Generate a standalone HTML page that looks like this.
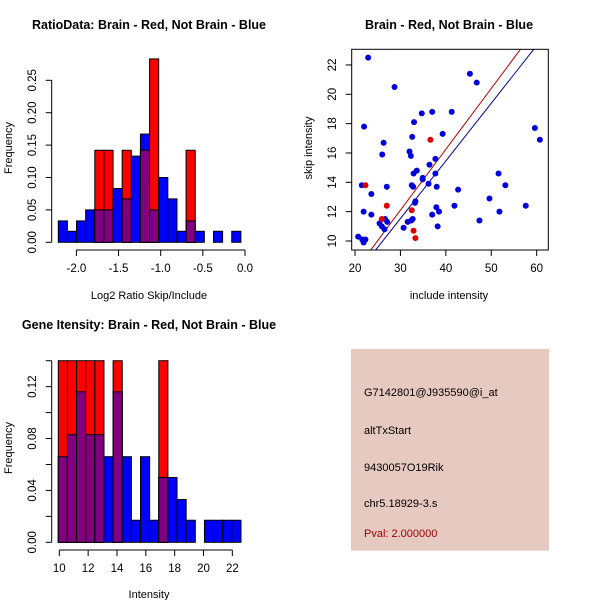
<!DOCTYPE html>
<html><head><meta charset="utf-8"><style>
body{margin:0;background:#fff;}
svg{display:block;font-family:"Liberation Sans",sans-serif;}
.t{font-weight:bold;font-size:12.5px;}
.l{font-size:11px;}
.k{font-size:11.5px;}
</style></head><body>
<svg id="c" width="600" height="600" viewBox="0 0 600 600" xmlns="http://www.w3.org/2000/svg"></svg>
<script>
// Panel 1 data
const ratioStart = -2.215, ratioWidth = 0.1083;
const ratioBlue = [0.033,0.017,0.033,0.05,0.05,0.05,0.083,0.067,0.133,0.167,0.05,0.1,0.067,0.017,0.033,0.017,0,0.017,0,0.017];
const ratioRed  = [0,0,0,0,0.142,0.142,0,0.142,0,0.142,0.283,0,0,0,0.142,0,0,0,0,0];
const ratioXTicks = [-2.0,-1.5,-1.0,-0.5,0.0];
const ratioXLabels = ["-2.0","-1.5","-1.0","-0.5","0.0"];
const ratioYTicks = [0,0.05,0.10,0.15,0.20,0.25];
const ratioYLabels = ["0.00","0.05","0.10","0.15","0.20","0.25"];
// Panel 2 data
const blueX = [22.9,28.7,45.3,46.8,34.7,37,41.3,33,22,39.3,32.6,26.3,26,32,32.3,37.7,36.4,33.6,32.9,37.7,34.9,34.9,36.2,21.5,32.5,32.8,27,38,42.7,23.6,33.3,33.2,41.9,37.9,21.9,38.5,23.6,37,26.6,27.1,32.4,32.7,31.6,25.4,25.9,26.5,30.7,38.2,20.7,21.6,22.3,21.9,59.6,60.7,51.6,53.1,49.6,51.8,57.6,47.4];
const blueY = [22.5,20.5,21.4,20.8,18.7,18.8,18.8,18.1,17.8,17.3,17.1,16.7,15.9,16.1,15.8,15.6,15.2,14.8,14.6,14.6,14.3,14.2,13.9,13.8,13.8,13.7,13.7,13.7,13.5,13.2,12.7,12.6,12.4,12.3,12,12,11.8,11.8,11.5,11.3,11.4,11.5,11.3,11.2,11,10.8,10.9,11,10.3,10.1,10.1,9.9,17.7,16.9,14.6,13.8,12.9,12,12.4,11.4];
const redX = [22.3,36.6,27,32.5,25.9,32.9,33.3];
const redY = [13.8,16.9,12.4,12.1,11.5,10.7,10.2];
const redFit = [-0.35,0.415];   // intercept, slope
const blueFit = [-0.26,0.393];
const scatXTicks = [20,30,40,50,60];
const scatYTicks = [10,12,14,16,18,20,22];
// Panel 3 data
const intStart = 9.93, intWidth = 0.6335;
const intBlue = [0.066,0.083,0.116,0.083,0.083,0.066,0.116,0.066,0.017,0.066,0.017,0.05,0.05,0.033,0.017,0,0.017,0.017,0.017,0.017];
const intRed  = [0.14,0.14,0.14,0.14,0.14,0,0.14,0,0,0,0,0.14,0,0,0,0,0,0,0,0];
const intXTicks = [10,12,14,16,18,20,22];
const intYTicks = [0,0.02,0.04,0.06,0.08,0.10,0.12,0.14];
const intYLabels = {0:"0.00",0.04:"0.04",0.08:"0.08",0.12:"0.12"};

const svg = document.getElementById('c');
const NS = 'http://www.w3.org/2000/svg';
function mk(tag, attrs, parent){const e=document.createElementNS(NS,tag);for(const k in attrs)e.setAttribute(k,attrs[k]);(parent||svg).appendChild(e);return e;}
function txt(x,y,s,cls,rot,anchor,fill){const e=mk('text',{x:x,y:y,'text-anchor':anchor||'middle',class:cls||'l',fill:fill||'#000'});if(rot)e.setAttribute('transform','rotate(-90 '+x+' '+y+')');e.textContent=s;return e;}

function hist(g, sx, sy, start, w, blue, red){
  for(let i=0;i<blue.length;i++){
    const x0=sx(start+i*w), x1=sx(start+(i+1)*w);
    const b=blue[i], r=red[i];
    if(b>0){const e=mk('rect',{x:x0,y:sy(b),width:x1-x0,height:sy(0)-sy(b),fill:'#0000ff',stroke:'#000','stroke-width':1},g);
      
      }
    if(r>0){const e=mk('rect',{x:x0,y:sy(r),width:x1-x0,height:sy(0)-sy(r),fill:'#ff0000',stroke:'#000','stroke-width':1},g);
      
      }
    const m=Math.min(b,r);
    if(m>0){const e=mk('rect',{x:x0,y:sy(m),width:x1-x0,height:sy(0)-sy(m),fill:'#800080',stroke:'#000','stroke-width':1},g);
      
      }
  }
}

// ---------- Panel 1 ----------
{
  const g=mk('g',{});
  
  
  const sx=v=>245+v*84.3, sy=v=>242.3-v*648;
  hist(g,sx,sy,ratioStart,ratioWidth,ratioBlue,ratioRed);
  mk('line',{x1:sx(-2),x2:sx(0),y1:250,y2:250,stroke:'#000'},g);
  ratioXTicks.forEach((v,i)=>{mk('line',{x1:sx(v),x2:sx(v),y1:250,y2:256,stroke:'#000'},g);
    const t=txt(sx(v),272,ratioXLabels[i],'k');});
  mk('line',{x1:51.7,x2:51.7,y1:sy(0),y2:sy(0.25),stroke:'#000'},g);
  ratioYTicks.forEach((v,i)=>{mk('line',{x1:45.7,x2:51.7,y1:sy(v),y2:sy(v),stroke:'#000'},g);
    const t=txt(36,sy(v),ratioYLabels[i],'k',true);});
  const t1=txt(149,29,'RatioData: Brain - Red, Not Brain - Blue','t');
  const t2=txt(149,299,'Log2 Ratio Skip/Include','l');
  const t3=txt(12,148,'Frequency','l',true);
}
// ---------- Panel 2 ----------
{
  const g=mk('g',{});
  
  
  const sx=v=>355+(v-20)*4.542, sy=v=>241-(v-10)*14.67;
  const L=351.7,R=548.3,T=49.3,B=250;
  mk('clipPath',{id:'cp'},g).appendChild(Object.assign(document.createElementNS(NS,'rect'),{}));
  const cr=g.querySelector('#cp rect');cr.setAttribute('x',L);cr.setAttribute('y',T);cr.setAttribute('width',R-L);cr.setAttribute('height',B-T);
  [[redFit,'#b00000','red-fit-line'],[blueFit,'#000090','blue-fit-line']].forEach(([f,c,n])=>{
    const xa=15,xb=70;
    const e=mk('line',{x1:sx(xa),y1:sy(f[0]+f[1]*xa),x2:sx(xb),y2:sy(f[0]+f[1]*xb),stroke:c,'stroke-width':1,'clip-path':'url(#cp)'},g);
    
    
  });
  blueX.forEach((x,i)=>{const e=mk('circle',{cx:sx(x),cy:sy(blueY[i]),r:3,fill:'#0000dd'},g);
    
    });
  redX.forEach((x,i)=>{const e=mk('circle',{cx:sx(x),cy:sy(redY[i]),r:3,fill:'#dd0000'},g);
    
    });
  mk('rect',{x:L,y:T,width:R-L,height:B-T,fill:'none',stroke:'#000'},g);
  scatXTicks.forEach(v=>{mk('line',{x1:sx(v),x2:sx(v),y1:B,y2:B+6,stroke:'#000'},g);
    const t=txt(sx(v),272,String(v),'k');});
  scatYTicks.forEach(v=>{mk('line',{x1:L-6,x2:L,y1:sy(v),y2:sy(v),stroke:'#000'},g);
    const t=txt(336,sy(v),String(v),'k',true);});
  const t1=txt(449,29,'Brain - Red, Not Brain - Blue','t');
  const t2=txt(449,299,'include intensity','l');
  const t3=txt(312,148,'skip intensity','l',true);
}
// ---------- Panel 3 ----------
{
  const g=mk('g',{});
  
  
  const sx=v=>59.3+(v-10)*14.42, sy=v=>542.3-v*1297;
  hist(g,sx,sy,intStart,intWidth,intBlue,intRed);
  mk('line',{x1:sx(10),x2:sx(22),y1:550,y2:550,stroke:'#000'},g);
  intXTicks.forEach(v=>{mk('line',{x1:sx(v),x2:sx(v),y1:550,y2:556,stroke:'#000'},g);
    const t=txt(sx(v),572,String(v),'k');});
  mk('line',{x1:51.7,x2:51.7,y1:sy(0),y2:sy(0.14),stroke:'#000'},g);
  intYTicks.forEach(v=>{mk('line',{x1:45.7,x2:51.7,y1:sy(v),y2:sy(v),stroke:'#000'},g);
    const key=Object.keys(intYLabels).find(k=>Math.abs(+k-v)<1e-9);
    if(key!==undefined){const t=txt(36,sy(v),intYLabels[key],'k',true);}});
  const t1=txt(149,329,'Gene Itensity: Brain - Red, Not Brain - Blue','t');
  const t2=txt(149,598,'Intensity','l');
  const t3=txt(12,448,'Frequency','l',true);
}
// ---------- Panel 4 ----------
{
  const g=mk('g',{});
  
  
  mk('rect',{x:351,y:349,width:198,height:201.7,fill:'#e6c9c1'},g);
  const lines=[['G7142801@J935590@i_at',396,'#000','probe-id'],['altTxStart',434,'#000','event-type'],['9430057O19Rik',471,'#000','gene-name'],['chr5.18929-3.s',507,'#000','location'],['Pval: 2.000000',537,'#990000','p-value']];
  lines.forEach(([s,y,c,n])=>{const t=txt(364,y,s,'l',false,'start',c);});
}
</script>
</body></html>
